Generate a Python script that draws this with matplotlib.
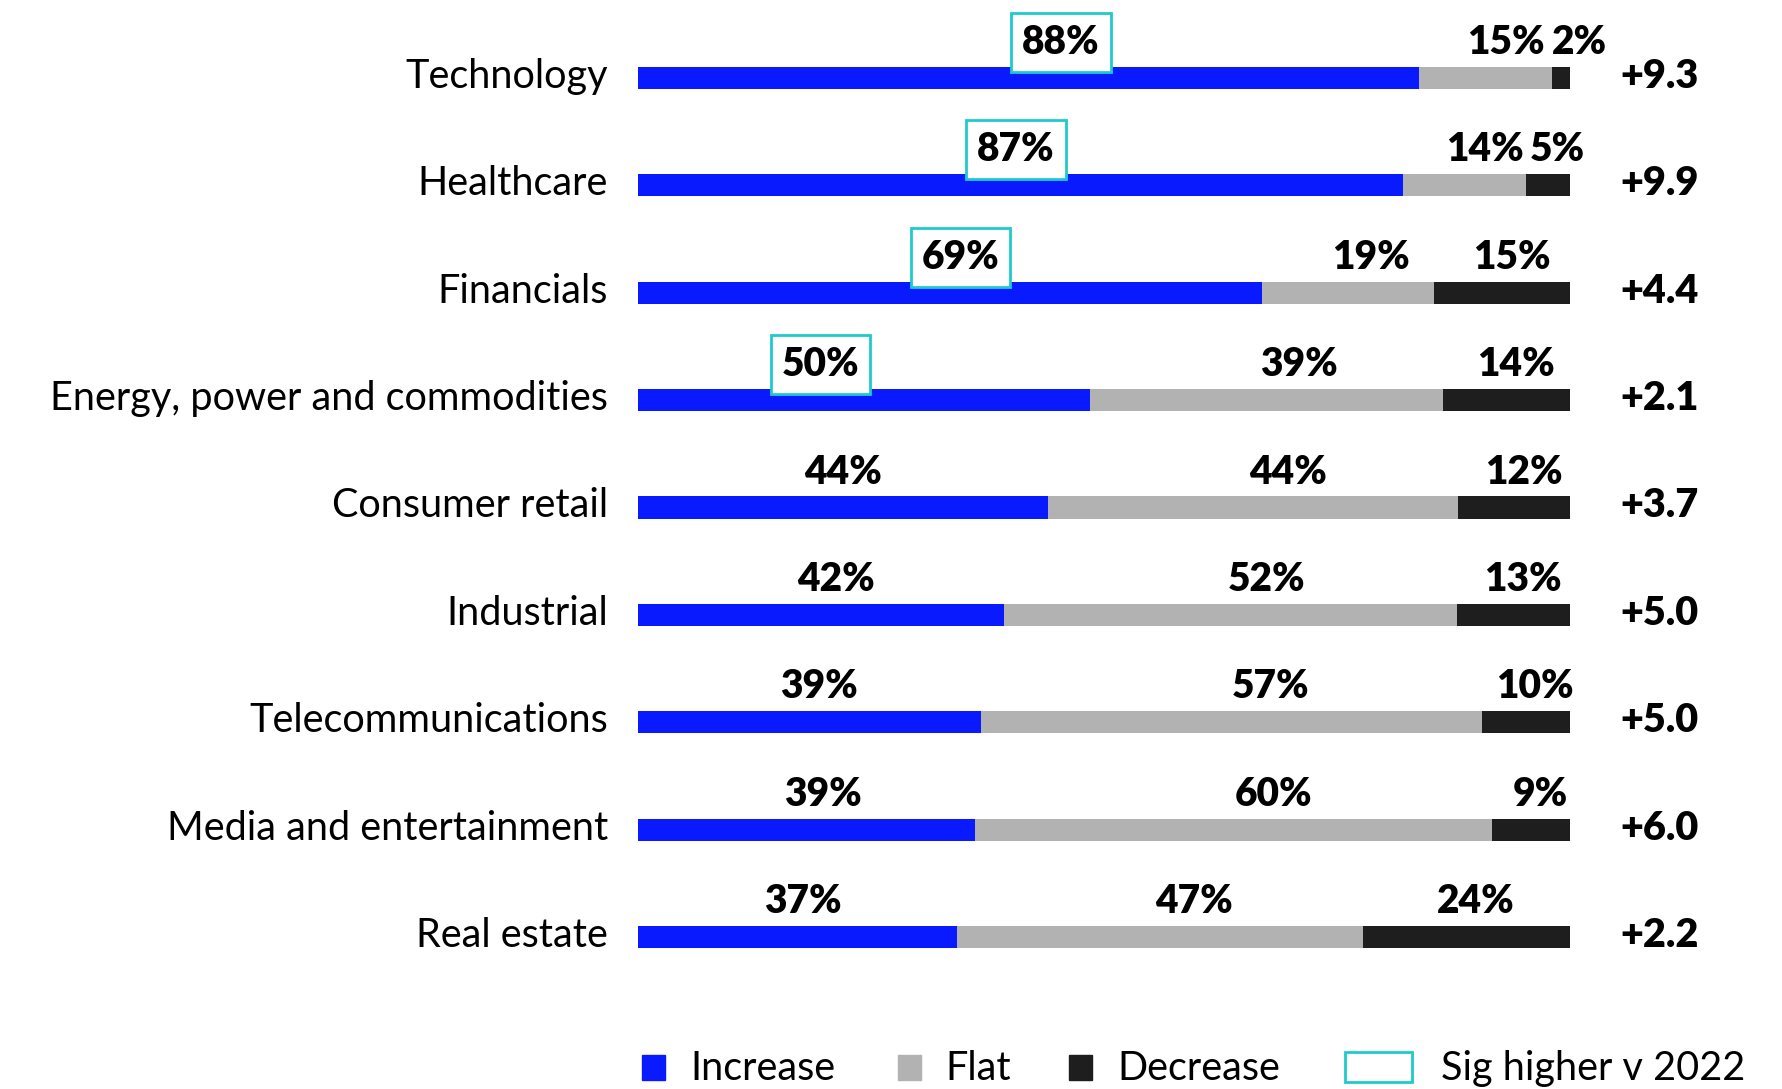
import numpy as np
import matplotlib
matplotlib.use("Agg")
import matplotlib.pyplot as plt
from matplotlib.patches import Rectangle

plt.rcParams['font.family'] = ['Lato', 'DejaVu Sans']

sectors = ["Technology", "Healthcare", "Financials", "Energy, power and commodities",
           "Consumer retail", "Industrial", "Telecommunications",
           "Media and entertainment", "Real estate"]
increase = [88, 87, 69, 50, 44, 42, 39, 39, 37]
flat = [15, 14, 19, 39, 44, 52, 57, 60, 47]
decrease = [2, 5, 15, 14, 12, 13, 10, 9, 24]
net_score = ["+9.3", "+9.9", "+4.4", "+2.1", "+3.7", "+5.0", "+5.0", "+6.0", "+2.2"]
sig_higher = [True, True, True, True, False, False, False, False, False]

BLUE = "#0a1aff"
GREY = "#b2b2b2"
DARK = "#1e1e1e"
CYAN = "#1ecbcb"

W, H = 1783, 1089
fig = plt.figure(figsize=(W / 100, H / 100), dpi=100)
ax = fig.add_axes([638 / W, 1 - 991 / H, 932 / W, (991 - 24) / H])

inc = np.array(increase, float)
fl = np.array(flat, float)
dec = np.array(decrease, float)
tot = inc + fl + dec
inc_n, fl_n, dec_n = inc / tot, fl / tot, dec / tot

y = np.arange(len(sectors))
bh = 0.205
ax.barh(y, inc_n, height=bh, color=BLUE)
ax.barh(y, fl_n, left=inc_n, height=bh, color=GREY)
ax.barh(y, dec_n, left=inc_n + fl_n, height=bh, color=DARK)

ax.set_xlim(0, 1)
ax.set_ylim(len(sectors) - 0.5, -0.5)
ax.axis("off")

# small horizontal nudges for the "increase" labels
inc_shift = [0.035, -0.005, 0.011, -0.047, 0.0, 0.016, 0.01, 0.018, 0.006]

lab_kw = dict(ha="center", va="baseline", fontsize=28, fontweight="heavy", color="black")
for i in range(len(sectors)):
    ytxt = i - bh / 2 - 0.12
    box = None
    if sig_higher[i]:
        box = dict(boxstyle="square,pad=0.28", fc="white", ec=CYAN, lw=2)
    ax.text(inc_n[i] / 2 + inc_shift[i], ytxt, f"{increase[i]}%", bbox=box, **lab_kw)
    xg = inc_n[i] + fl_n[i] / 2 + 0.015 + 0.05 * fl_n[i]
    ax.text(xg, ytxt, f"{flat[i]}%", **lab_kw)
    xd = inc_n[i] + fl_n[i] + dec_n[i] / 2 + 0.01
    if dec_n[i] < 0.03:
        xd += 0.01
    ax.text(xd, ytxt, f"{decrease[i]}%", **lab_kw)

    ybase = i + bh / 2 - 0.01
    ax.text(-0.032, ybase, sectors[i], ha="right", va="baseline", fontsize=28.5)
    ax.text(1.054, ybase, net_score[i], ha="left", va="baseline", fontsize=28.5,
            fontweight="heavy")

# legend along the bottom
def fx(px):
    return px / W

def fy(px):
    return 1 - px / H

sq_w, sq_h = 23, 25
items = [(642, 690, BLUE, "Increase"), (898, 945, GREY, "Flat"),
         (1069, 1117, DARK, "Decrease")]
for x0, xt, col, txt in items:
    fig.patches.append(Rectangle((fx(x0), fy(1080)), sq_w / W, sq_h / H,
                                 transform=fig.transFigure, color=col))
    fig.text(fx(xt), fy(1080), txt, ha="left", va="baseline", fontsize=28.5)
fig.patches.append(Rectangle((fx(1345), fy(1082)), 67 / W, 30 / H,
                             transform=fig.transFigure, fc="white", ec=CYAN, lw=2))
fig.text(fx(1441), fy(1080), "Sig higher v 2022", ha="left", va="baseline", fontsize=28.5)

fig.savefig("out.png", dpi=100, facecolor="white")
